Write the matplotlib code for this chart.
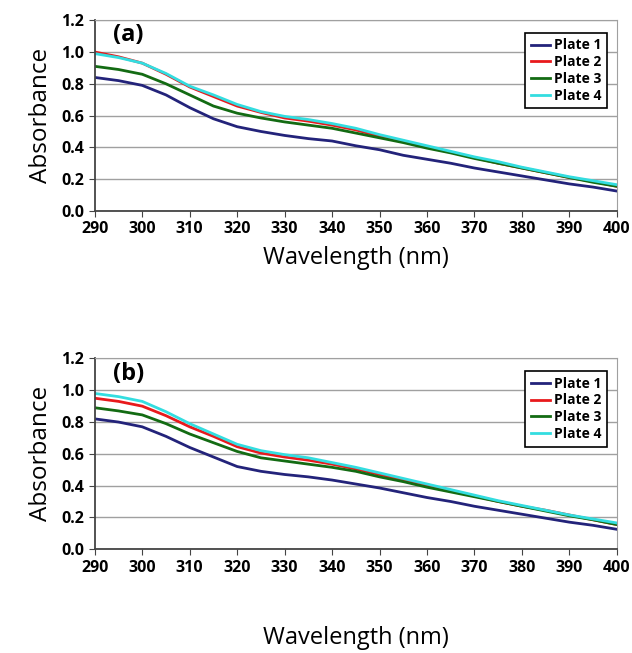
import matplotlib
matplotlib.use("Agg")
import matplotlib.pyplot as plt
from matplotlib.ticker import FormatStrFormatter

plt.rcParams['font.family'] = ['Open Sans', 'DejaVu Sans']

# wavelength grid (nm)
wavelength = [290, 295, 300, 305, 310, 315, 320, 325, 330, 335, 340, 345,
              350, 355, 360, 365, 370, 375, 380, 385, 390, 395, 400]

# panel (a)
a_plate1 = [0.84, 0.82, 0.79, 0.73, 0.65, 0.58, 0.53, 0.50, 0.475, 0.455, 0.44, 0.41,
            0.385, 0.35, 0.325, 0.30, 0.27, 0.245, 0.22, 0.195, 0.17, 0.15, 0.125]
a_plate2 = [1.00, 0.97, 0.93, 0.86, 0.78, 0.72, 0.66, 0.62, 0.585, 0.565, 0.54, 0.51,
            0.47, 0.44, 0.40, 0.37, 0.335, 0.30, 0.27, 0.24, 0.21, 0.185, 0.155]
a_plate3 = [0.91, 0.89, 0.86, 0.80, 0.73, 0.66, 0.615, 0.585, 0.56, 0.54, 0.52, 0.49,
            0.46, 0.43, 0.395, 0.365, 0.33, 0.30, 0.27, 0.24, 0.21, 0.18, 0.155]
a_plate4 = [0.99, 0.965, 0.93, 0.865, 0.785, 0.73, 0.67, 0.625, 0.595, 0.575, 0.55, 0.52,
            0.48, 0.445, 0.41, 0.375, 0.34, 0.31, 0.275, 0.245, 0.215, 0.19, 0.165]

# panel (b)
b_plate1 = [0.82, 0.80, 0.77, 0.71, 0.64, 0.58, 0.52, 0.49, 0.47, 0.455, 0.435, 0.41,
            0.385, 0.355, 0.325, 0.30, 0.27, 0.245, 0.22, 0.195, 0.17, 0.15, 0.125]
b_plate2 = [0.95, 0.93, 0.90, 0.84, 0.77, 0.71, 0.645, 0.605, 0.58, 0.56, 0.535, 0.505,
            0.47, 0.435, 0.40, 0.37, 0.335, 0.30, 0.27, 0.245, 0.215, 0.185, 0.155]
b_plate3 = [0.89, 0.87, 0.845, 0.79, 0.725, 0.67, 0.615, 0.575, 0.555, 0.535, 0.515, 0.49,
            0.455, 0.425, 0.39, 0.36, 0.33, 0.30, 0.27, 0.24, 0.21, 0.185, 0.155]
b_plate4 = [0.98, 0.96, 0.93, 0.865, 0.79, 0.725, 0.66, 0.62, 0.595, 0.575, 0.545, 0.515,
            0.48, 0.445, 0.41, 0.375, 0.34, 0.305, 0.275, 0.245, 0.215, 0.19, 0.165]

labels = ["Plate 1", "Plate 2", "Plate 3", "Plate 4"]
colors = ["#23237a", "#e8191c", "#136b13", "#33dde0"]
x_ticks = [290, 300, 310, 320, 330, 340, 350, 360, 370, 380, 390, 400]
y_ticks = [0.0, 0.2, 0.4, 0.6, 0.8, 1.0, 1.2]


def draw_panel(ax, series, tag):
    for vals, lab, col in zip(series, labels, colors):
        ax.plot(wavelength, vals, color=col, lw=2, label=lab)
    ax.set_xlim(290, 400)
    ax.set_ylim(0, 1.2)
    ax.set_xticks(x_ticks)
    ax.set_yticks(y_ticks)
    ax.yaxis.set_major_formatter(FormatStrFormatter('%.1f'))
    ax.grid(axis='y', color='#a0a0a0', lw=1)
    ax.set_axisbelow(True)
    for s in ['top', 'right']:
        ax.spines[s].set_color('#a0a0a0')
    for s in ['left', 'bottom']:
        ax.spines[s].set_color('#444444')
        ax.spines[s].set_linewidth(1.3)
    ax.tick_params(labelsize=11.5, length=4, color='#444444')
    for t in ax.get_xticklabels() + ax.get_yticklabels():
        t.set_fontweight('bold')
    ax.set_ylabel("Absorbance", fontsize=17.5, labelpad=6)
    ax.set_xlabel("Wavelength (nm)", fontsize=17, labelpad=6)
    ax.text(0.035, 0.92, tag, transform=ax.transAxes, fontsize=17,
            fontweight='bold', va='center')
    leg = ax.legend(loc='upper right', bbox_to_anchor=(0.995, 0.97),
                    fancybox=False, framealpha=1, edgecolor='black',
                    prop={'weight': 'bold', 'size': 10},
                    handlelength=1.4, handletextpad=0.3, labelspacing=0.2,
                    borderpad=0.4)
    leg.get_frame().set_linewidth(1.2)


fig = plt.figure(figsize=(6.32, 6.53), dpi=100)
ax1 = fig.add_axes([0.150, 0.677, 0.826, 0.292])
ax2 = fig.add_axes([0.150, 0.159, 0.826, 0.292])

draw_panel(ax1, [a_plate1, a_plate2, a_plate3, a_plate4], "(a)")
draw_panel(ax2, [b_plate1, b_plate2, b_plate3, b_plate4], "(b)")
ax2.xaxis.labelpad = 36

fig.savefig("out.png", dpi=100)
